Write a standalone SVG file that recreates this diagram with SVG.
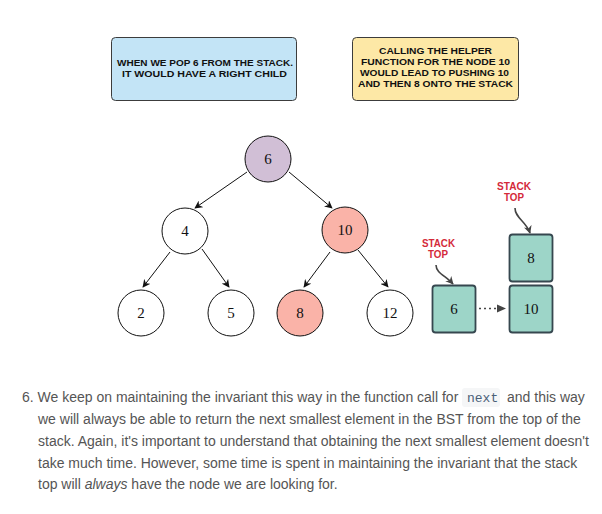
<svg xmlns="http://www.w3.org/2000/svg" width="602" height="514" viewBox="0 0 602 514">
<style>
.note{stroke:#3c3c3c;stroke-width:1;}
.comic{font-family:"Liberation Sans",Arial,sans-serif;font-weight:bold;font-size:9.5px;fill:#111;text-anchor:middle;}
.tn{stroke:#111;stroke-width:1;}
.num{font-family:"Liberation Serif","Times New Roman",serif;font-size:15px;fill:#111;text-anchor:middle;}
.edge{stroke:#111;stroke-width:1;fill:none;marker-end:url(#ah);}
.stk{fill:#9dd5c8;stroke:#36474f;stroke-width:1.8;}
.red{font-family:"Liberation Sans",Arial,sans-serif;font-weight:bold;font-size:10px;fill:#d42a3a;text-anchor:middle;}
.curve{stroke:#444;stroke-width:1.6;fill:none;marker-end:url(#ah2);}
.para{font-family:"Liberation Sans",Arial,sans-serif;font-size:14px;fill:#555;}
</style>
<defs>
<marker id="ah" viewBox="0 0 10 10" refX="9" refY="5" markerWidth="8" markerHeight="8" markerUnits="userSpaceOnUse" orient="auto"><path d="M0,0 L10,5 L0,10 L3,5 z" fill="#111"/></marker>
<marker id="ah2" viewBox="0 0 10 10" refX="9" refY="5" markerWidth="8" markerHeight="8" markerUnits="userSpaceOnUse" orient="auto"><path d="M0,0 L10,5 L0,10 L3,5 z" fill="#444"/></marker>
</defs>
<rect width="602" height="514" fill="#fff"/>
<g id="note1">
<rect class="note" x="111.5" y="37.5" width="185" height="63" rx="4" fill="#c3e4f6"/>
<text class="comic" x="205" y="66" textLength="176" lengthAdjust="spacingAndGlyphs">WHEN WE POP 6 FROM THE STACK.</text>
<text class="comic" x="204.5" y="77" textLength="165" lengthAdjust="spacingAndGlyphs">IT WOULD HAVE A RIGHT CHILD</text>
</g>
<g id="note2">
<rect class="note" x="352.5" y="37.5" width="166" height="63" rx="4" fill="#fde8a6"/>
<text class="comic" x="435.5" y="53.5" textLength="113" lengthAdjust="spacingAndGlyphs">CALLING THE HELPER</text>
<text class="comic" x="435.5" y="65" textLength="149" lengthAdjust="spacingAndGlyphs">FUNCTION FOR THE NODE 10</text>
<text class="comic" x="434.5" y="76" textLength="149" lengthAdjust="spacingAndGlyphs">WOULD LEAD TO PUSHING 10</text>
<text class="comic" x="435.5" y="87" textLength="155" lengthAdjust="spacingAndGlyphs">AND THEN 8 ONTO THE STACK</text>
</g>
<g id="connectors">
<line class="edge" x1="247" y1="172" x2="195" y2="208"/>
<line class="edge" x1="289" y1="172" x2="332" y2="208"/>
<line class="edge" x1="170" y1="252" x2="143" y2="287"/>
<line class="edge" x1="202" y1="249" x2="229" y2="287"/>
<line class="edge" x1="330" y1="252" x2="304" y2="287"/>
<line class="edge" x1="358" y1="250" x2="388" y2="287"/>
<line x1="479" y1="308.5" x2="500" y2="308.5" stroke="#444" stroke-width="1.6" stroke-dasharray="2,3"/>
<path d="M497,304.5 L506,308.5 L497,312.5 z" fill="#444"/>
<path class="curve" d="M436,265 C436,273 446,276 453,284"/>
<path class="curve" d="M515,208 C515,218 526,221 530,233"/>
</g>
<g id="n6"><circle class="tn" cx="268" cy="159" r="23" fill="#d1bfd6"/><text class="num" x="268" y="164">6</text></g>
<g id="n4"><circle class="tn" cx="185" cy="231" r="23" fill="#fff"/><text class="num" x="185" y="236">4</text></g>
<g id="n10"><circle class="tn" cx="345" cy="230" r="23" fill="#fab3a8"/><text class="num" x="345" y="235">10</text></g>
<g id="n2"><circle class="tn" cx="141" cy="313" r="23" fill="#fff"/><text class="num" x="141" y="318">2</text></g>
<g id="n5"><circle class="tn" cx="231" cy="313" r="23" fill="#fff"/><text class="num" x="231" y="318">5</text></g>
<g id="n8"><circle class="tn" cx="300" cy="313" r="23" fill="#fab3a8"/><text class="num" x="300" y="318">8</text></g>
<g id="n12"><circle class="tn" cx="390" cy="313" r="23" fill="#fff"/><text class="num" x="390" y="318">12</text></g>
<g id="s6"><rect class="stk" x="432.5" y="285.5" width="43" height="47" rx="3"/><text class="num" x="454" y="314">6</text></g>
<g id="s8"><rect class="stk" x="509.5" y="234.5" width="43" height="47" rx="3"/><text class="num" x="531" y="263">8</text></g>
<g id="s10"><rect class="stk" x="509.5" y="285.5" width="43" height="47" rx="3"/><text class="num" x="531" y="314">10</text></g>
<g id="label1"><text class="red" x="438.5" y="246.5" textLength="33" lengthAdjust="spacingAndGlyphs">STACK</text><text class="red" x="438" y="257.5" textLength="20" lengthAdjust="spacingAndGlyphs">TOP</text></g>
<g id="label2"><text class="red" x="514" y="189.5" textLength="34" lengthAdjust="spacingAndGlyphs">STACK</text><text class="red" x="514" y="200.5" textLength="20" lengthAdjust="spacingAndGlyphs">TOP</text></g>
<g id="paragraph">
<rect x="462" y="388" width="38" height="19" rx="3" fill="#f5f6f7"/>
<text class="para" x="22" y="402">6. We keep on maintaining the invariant this way in the function call for</text>
<text x="467" y="402" font-family="'Liberation Mono','DejaVu Sans Mono',monospace" font-size="13" fill="#4a6078">next</text>
<text class="para" x="507" y="402">and this way</text>
<text class="para" x="38" y="424">we will always be able to return the next smallest element in the BST from the top of the</text>
<text class="para" x="38" y="446">stack. Again, it's important to understand that obtaining the next smallest element doesn't</text>
<text class="para" x="38" y="468">take much time. However, some time is spent in maintaining the invariant that the stack</text>
<text class="para" x="38" y="489">top will <tspan font-style="italic">always</tspan> have the node we are looking for.</text>
</g>
</svg>
